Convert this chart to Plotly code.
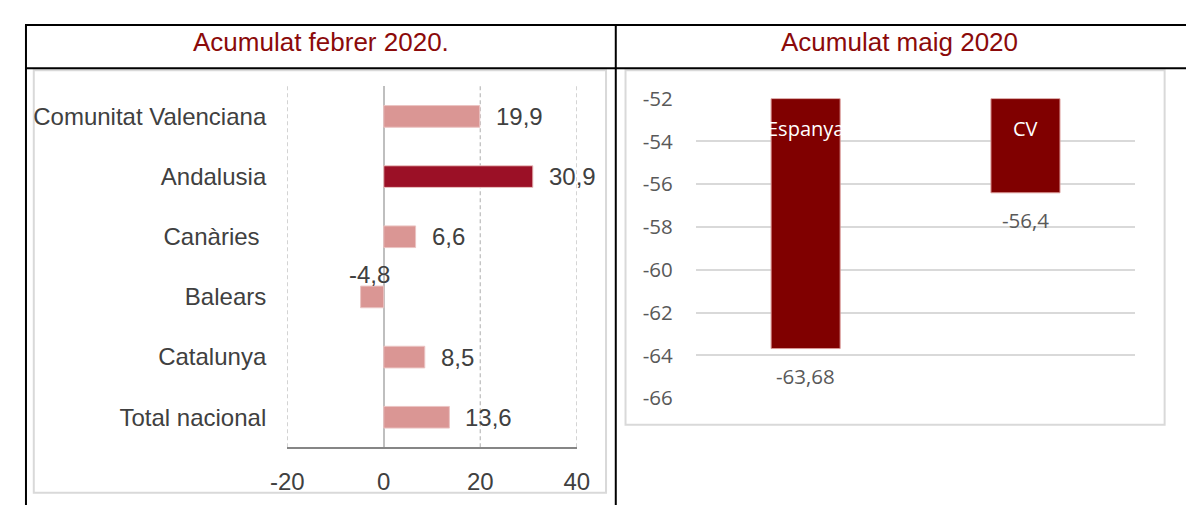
import plotly.graph_objects as go

# ---- data ----
left_title = "Acumulat febrer 2020."
right_title = "Acumulat maig 2020"

regions = ["Comunitat Valenciana", "Andalusia", "Canàries\u00a0", "Balears", "Catalunya", "Total nacional"]
region_values = [19.9, 30.9, 6.6, -4.8, 8.5, 13.6]
region_labels = ["19,9", "30,9", "6,6", "-4,8", "8,5", "13,6"]
highlight_region = "Andalusia"

x_ticks = [-20, 0, 20, 40]

areas = ["Espanya", "CV"]
area_values = [-63.68, -56.4]
area_labels = ["-63,68", "-56,4"]
area_axis_top = -52
y_ticks = [-52, -54, -56, -58, -60, -62, -64, -66]

# ---- layout helpers (page body has an 8px margin) ----
W, H = 1194, 510
OFF = 8
def px(x):
    return (x - OFF) / W
def py(y):
    return 1 - (y - OFF) / H

PINK = "#DA9694"
DARK = "#9B1026"
MAROON = "#800000"
TITLE_C = "#8B0A0A"

fig = go.Figure()

bar_colors = [DARK if r == highlight_region else PINK for r in regions]
fig.add_trace(go.Bar(
    x=region_values, y=regions, orientation="h",
    marker=dict(color=bar_colors, line=dict(color="#EBC4C3", width=1)),
    width=0.36, xaxis="x", yaxis="y", hoverinfo="x+y",
))

fig.add_trace(go.Bar(
    x=areas, y=[v - area_axis_top for v in area_values], base=area_axis_top,
    marker=dict(color=MAROON, line=dict(color="#D99694", width=1)),
    width=0.314, xaxis="x2", yaxis="y2",
))

LFONT = dict(family="Liberation Sans", size=24, color="#404040")
annotations = []
for r, v, t in zip(regions, region_values, region_labels):
    if v >= 0:
        annotations.append(dict(x=v, y=r, xref="x", yref="y", text=t, showarrow=False,
                                xanchor="left", xshift=14, font=LFONT))
    else:
        annotations.append(dict(x=v, y=r, xref="x", yref="y", text=t, showarrow=False,
                                xanchor="center", xshift=9, yshift=22, font=LFONT))

for a, v, t in zip(areas, area_values, area_labels):
    annotations.append(dict(x=a, y=v, xref="x2", yref="y2", text=t, showarrow=False,
                            yanchor="middle", yshift=-27,
                            font=dict(family="Open Sans", size=20.5, color="#595959")))
    annotations.append(dict(x=a, y=area_axis_top, xref="x2", yref="y2", text=a, showarrow=False,
                            yanchor="middle", yshift=-30,
                            font=dict(family="Open Sans", size=20, color="white")))

annotations.append(dict(x=px(312), y=py(28), xref="paper", yref="paper", text=left_title,
                        showarrow=False, xanchor="center", yanchor="middle",
                        font=dict(family="Liberation Sans", size=26, color=TITLE_C)))
annotations.append(dict(x=px(905), y=py(28), xref="paper", yref="paper", text=right_title,
                        showarrow=False, xanchor="center", yanchor="middle",
                        font=dict(family="Liberation Sans", size=26, color=TITLE_C)))

shapes = []
# chart frames
shapes.append(dict(type="rect", xref="paper", yref="paper", x0=px(17), x1=px(604), y0=py(505), y1=py(58),
                   line=dict(color="#D9D9D9", width=2), layer="below"))
shapes.append(dict(type="rect", xref="paper", yref="paper", x0=px(624), x1=px(1177), y0=py(433), y1=py(58),
                   line=dict(color="#D9D9D9", width=2), layer="below"))
# dashed vertical gridlines of the left chart (incl. the ones at the range edges)
for t in x_ticks:
    if t != 0:
        shapes.append(dict(type="line", xref="x", yref="y domain", x0=t, x1=t, y0=0, y1=1,
                           line=dict(color="#BFBFBF", width=1.3, dash="4px,3px"), layer="below"))
# table borders
shapes.append(dict(type="line", xref="paper", yref="paper", x0=px(8), x1=1, y0=py(10), y1=py(10),
                   line=dict(color="black", width=2)))
shapes.append(dict(type="line", xref="paper", yref="paper", x0=px(8), x1=1, y0=py(56), y1=py(56),
                   line=dict(color="black", width=2)))
shapes.append(dict(type="line", xref="paper", yref="paper", x0=px(9), x1=px(9), y0=0, y1=py(10),
                   line=dict(color="black", width=2)))
shapes.append(dict(type="line", xref="paper", yref="paper", x0=px(614), x1=px(614), y0=0, y1=py(10),
                   line=dict(color="black", width=2)))

fig.update_layout(
    width=W, height=H, margin=dict(l=0, r=0, t=0, b=0),
    paper_bgcolor="white", plot_bgcolor="rgba(0,0,0,0)",
    showlegend=False, bargap=0.64,
    annotations=annotations, shapes=shapes,
    xaxis=dict(domain=[px(277), px(574)], range=[-20, 40], tickvals=x_ticks,
               ticktext=[str(t) for t in x_ticks],
               showgrid=False,
               zeroline=True, zerolinecolor="#BFBFBF", zerolinewidth=2,
               showline=True, linecolor="#868686", linewidth=2,
               ticks="", ticklabelstandoff=12,
               tickfont=LFONT, anchor="y", fixedrange=True),
    yaxis=dict(domain=[py(457), py(75)], type="category",
               categoryorder="array", categoryarray=regions, autorange="reversed",
               showgrid=False, zeroline=False, showline=False, ticks="",
               ticklabelstandoff=20, tickfont=LFONT,
               anchor="x", fixedrange=True),
    xaxis2=dict(domain=[px(696), px(1147)], type="category", showticklabels=False,
                showgrid=False, zeroline=False, showline=False, ticks="",
                anchor="y2", fixedrange=True),
    yaxis2=dict(domain=[py(405), py(88)], range=[-66, -52], tickvals=y_ticks,
                ticktext=[str(t) for t in y_ticks],
                showgrid=True, gridcolor="#D9D9D9", gridwidth=1.5,
                zeroline=False, showline=False, ticks="", ticklabelstandoff=22,
                tickfont=dict(family="Open Sans", size=20.5, color="#595959"),
                anchor="x2", fixedrange=True),
)

fig.write_html("out.html")
